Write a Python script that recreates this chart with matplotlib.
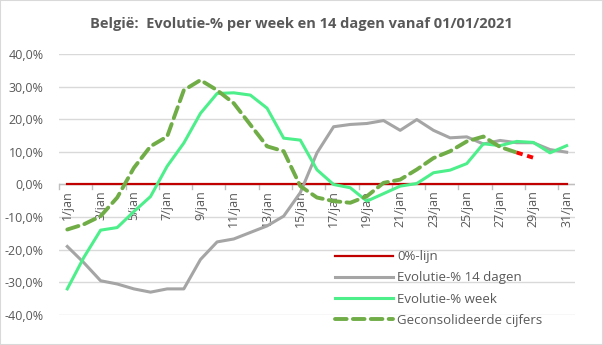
import numpy as np
import matplotlib
matplotlib.use("Agg")
from matplotlib import pyplot as plt

# categories: days of January 2021
dagen = [str(d) + "/jan" for d in range(1, 32)]

# evolution over 14 days (%)
evol_14d = [-19, -24, -29.5, -30.5, -32, -33, -32, -32, -23, -17.6, -16.7, -14.7,
            -12.7, -9.7, -2.5, 9.7, 17.7, 18.4, 18.7, 19.6, 16.6, 19.9, 16.6,
            14.3, 14.6, 12.4, 13.5, 12.8, 12.8, 10.7, 9.9]

# evolution per week (%)
evol_week = [-32, -22.3, -14, -13.2, -8.3, -3.7, 5.6, 12.7, 21.8, 27.9, 28.1,
             27.4, 23.4, 14.2, 13.6, 4.5, 0, -1, -5.1, -2.8, -0.5, 0.3, 3.6,
             4.4, 6.4, 12.5, 11.9, 13.2, 12.9, 9.7, 11.9]

# consolidated figures (%), up to 28/jan
geconsolideerd = [-13.8, -12.2, -9.7, -4, 5.1, 11.7, 14.7, 28.9, 32, 28.9, 24.9,
                  18.3, 11.7, 10.2, -0.5, -4, -5.1, -5.6, -3.6, 0.5, 1.5, 4.6,
                  8.1, 10.2, 13.2, 14.7, 11.5, 9.8]
# last (not yet consolidated) segment, 28/jan -> 29/jan
laatste = [9.8, 8.2]

nul_lijn = [0] * len(dagen)

yticks = [-40, -30, -20, -10, 0, 10, 20, 30, 40]

txt = "#595959"
plt.rcParams["font.family"] = ["Open Sans", "DejaVu Sans"]

fig = plt.figure(figsize=(6.03, 3.45), dpi=100)
ax = fig.add_axes([0.0978, 0.087, 0.8557, 0.7565])

x = np.arange(len(dagen))

ax.plot(x, nul_lijn, color="#C00000", lw=1.6, label="0%-lijn", zorder=3)
ax.plot(x, evol_14d, color="#A5A5A5", lw=2.2, label="Evolutie-% 14 dagen", zorder=4)
ax.plot(x, evol_week, color="#4CEF8A", lw=2.2, label="Evolutie-% week", zorder=5)
ax.plot(x[:len(geconsolideerd)], geconsolideerd, color="#70AD47", lw=2.8,
        dashes=(3.0, 1.6), dash_capstyle="round",
        label="Geconsolideerde cijfers", zorder=6)
ax.plot(x[len(geconsolideerd) - 1:len(geconsolideerd) + 1], laatste,
        color="#FF0000", lw=2.8, dashes=(1.6, 1.2), zorder=6)

ax.set_xlim(-0.5, len(dagen) - 0.5)
ax.set_ylim(-40, 40)

# grid and y axis
ax.set_yticks(yticks)
ax.set_yticklabels([("%.1f%%" % v).replace(".", ",") for v in yticks],
                   color=txt, fontsize=9)
ax.tick_params(axis="y", length=0, pad=11)
ax.grid(axis="y", color="#D9D9D9", lw=1)
ax.set_axisbelow(True)
for s in ax.spines.values():
    s.set_visible(False)

# category axis at 0, ticks every two days
ax.set_xticks([])
ax.axhline(0, color="#BFBFBF", lw=1, zorder=2)
for t in np.arange(-0.5, len(dagen), 2):
    ax.plot([t, t], [0, -1.5], color="#BFBFBF", lw=1, zorder=2, clip_on=False)
for i in range(0, len(dagen), 2):
    ax.text(i, -1.8, dagen[i], rotation=90, ha="center", va="top",
            color=txt, fontsize=9)

leg = ax.legend(loc="lower left", bbox_to_anchor=(0.535, -0.045), frameon=False,
                fontsize=9.5, handlelength=4.4, labelspacing=0.62,
                handletextpad=0.3, borderaxespad=0, borderpad=0)
for t in leg.get_texts():
    t.set_color(txt)

fig.text(0.5, 0.93, "België:  Evolutie-% per week en 14 dagen vanaf 01/01/2021",
         ha="center", va="center", fontsize=10.5, fontweight="bold", color=txt)

# chart border
fig.patches.append(plt.Rectangle((0, 0), 1, 1, transform=fig.transFigure,
                                 fill=False, ec="#D9D9D9", lw=1.5))

plt.savefig("out.png", dpi=100)
